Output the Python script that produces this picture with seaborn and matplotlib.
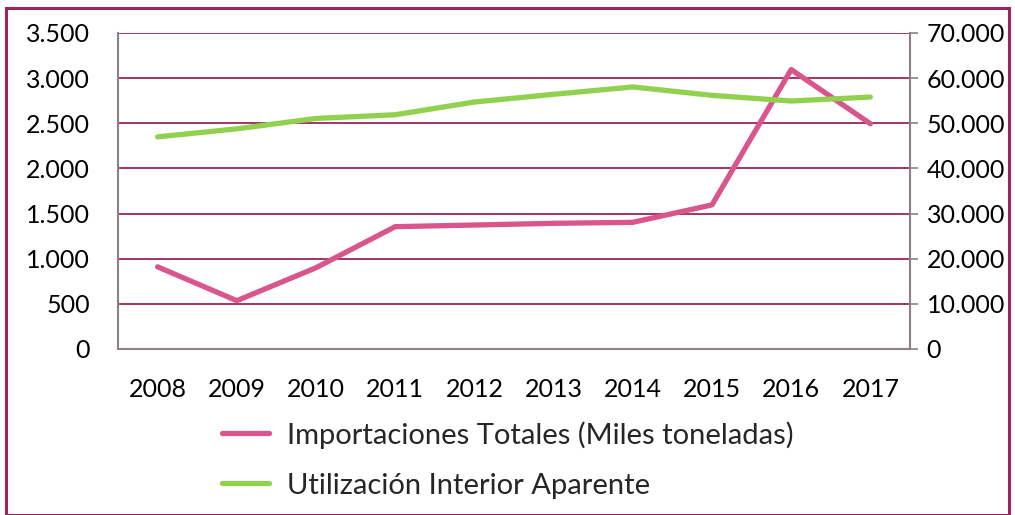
import numpy as np
import pandas as pd
import matplotlib
matplotlib.use("Agg")
import matplotlib.pyplot as plt
import seaborn as sns
from matplotlib.ticker import FuncFormatter, MultipleLocator
from matplotlib.lines import Line2D
from matplotlib.patches import Rectangle

years = [2008, 2009, 2010, 2011, 2012, 2013, 2014, 2015, 2016, 2017]
importaciones = [910, 535, 900, 1355, 1373, 1392, 1403, 1596, 3095, 2495]
utilizacion = [46990, 48770, 51070, 51890, 54710, 56420, 58050, 56190, 54930, 55820]
label_imp = "Importaciones Totales (Miles toneladas)"
label_uti = "Utilización Interior Aparente"

pink = "#D9558B"
green = "#92D050"
maroon = "#9E2459"
grey = "#8C8088"

sns.set_theme(style="white")
plt.rcParams['font.family'] = ['Lato', 'DejaVu Sans']

df = pd.DataFrame({"year": years, "imp": importaciones, "uti": utilizacion})

fig = plt.figure(figsize=(10.15, 5.15), dpi=100)
ax = fig.add_axes([118/1015, 1-349/515, (910-118)/1015, (349-33)/515])
ax2 = ax.twinx()

sns.lineplot(data=df, x="year", y="imp", ax=ax, color=pink, linewidth=3.8, legend=False)
sns.lineplot(data=df, x="year", y="uti", ax=ax2, color=green, linewidth=3.8, legend=False)

def thousands(v, pos):
    return f"{int(v):,}".replace(",", ".")

ax.set_xlim(2007.5, 2017.5)
ax.set_ylim(0, 3500)
ax2.set_ylim(0, 70000)
ax.yaxis.set_major_locator(MultipleLocator(500))
ax2.yaxis.set_major_locator(MultipleLocator(10000))
ax.yaxis.set_major_formatter(FuncFormatter(thousands))
ax2.yaxis.set_major_formatter(FuncFormatter(thousands))
ax.set_xticks(years)
ax.set_xticklabels([str(y) for y in years])

# gridlines in maroon
for v in np.arange(500, 3501, 500):
    ax.axhline(v, color=maroon, linewidth=1.3, zorder=0)

ax.set_xlabel("")
ax.set_ylabel("")
ax2.set_ylabel("")

for a in (ax, ax2):
    for s in a.spines.values():
        s.set_visible(False)
ax.spines['left'].set_visible(True)
ax.spines['left'].set_color(grey)
ax.spines['left'].set_linewidth(1.5)
ax.spines['bottom'].set_visible(True)
ax.spines['bottom'].set_color(grey)
ax.spines['bottom'].set_linewidth(1.5)
ax2.spines['right'].set_visible(True)
ax2.spines['right'].set_color(grey)
ax2.spines['right'].set_linewidth(1.5)

ax.tick_params(axis='y', left=False, pad=14, labelsize=18, labelcolor='black')
ax.tick_params(axis='x', bottom=False, pad=15, labelsize=18, labelcolor='black')
ax2.tick_params(axis='y', right=True, length=6, width=1.2, color=grey, direction='out',
                pad=6, labelsize=18, labelcolor='black')

handles = [Line2D([0], [0], color=pink, linewidth=3.8, solid_capstyle='round'),
           Line2D([0], [0], color=green, linewidth=3.8, solid_capstyle='round')]
fig.legend(handles, [label_imp, label_uti], loc='upper left',
           bbox_to_anchor=(222/1015, 1-421/515), frameon=False, fontsize=21,
           handlelength=1.6, handletextpad=0.62, labelspacing=0.82, borderpad=0,
           borderaxespad=0)

fig.patches.append(Rectangle((6/1015, 0), 1003/1015, 1-8/515, transform=fig.transFigure,
                             fill=False, edgecolor=maroon, linewidth=2.2))

fig.savefig("out.png", dpi=100)
